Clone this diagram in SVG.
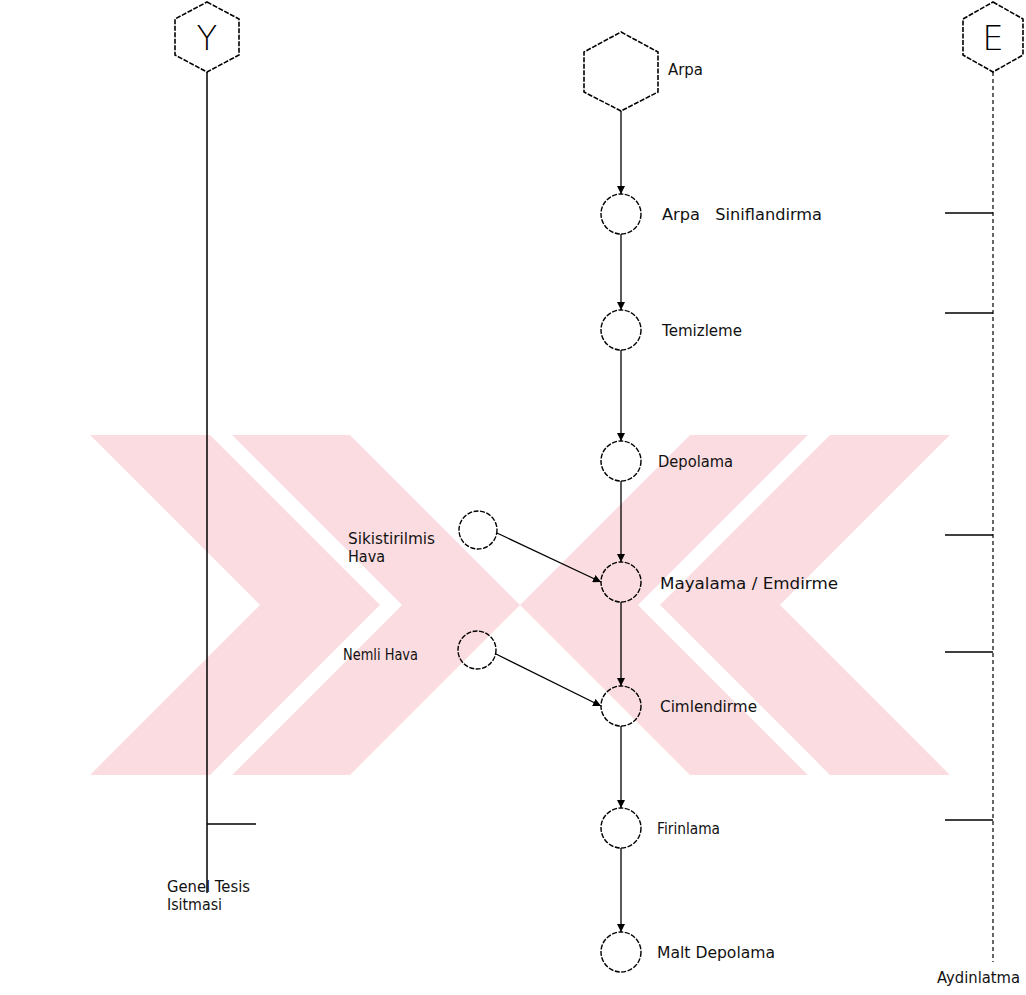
<svg xmlns="http://www.w3.org/2000/svg" width="1026" height="995" viewBox="0 0 1026 995">
  <style>
    .wm { fill: #fbdde1; }
    .hex { fill: none; stroke: #000; stroke-width: 1.6; stroke-dasharray: 5 1.5; }
    .node { fill: none; stroke: #000; stroke-width: 1.4; stroke-dasharray: 5 1.5; }
    .flow { fill: none; stroke: #000; stroke-width: 1.3; }
    .rail { fill: none; stroke: #000; stroke-width: 1.5; }
    .rail-dot { fill: none; stroke: #000; stroke-width: 1.2; stroke-dasharray: 4 3; }
    .tick { fill: none; stroke: #000; stroke-width: 1.4; }
    .lbl { font-family: "DejaVu Sans", "Liberation Sans", sans-serif; font-size: 16px; fill: #111; }
    .sym { font-family: "DejaVu Sans", "Liberation Sans", sans-serif; font-size: 34px; font-weight: 300; fill: #000; text-anchor: middle; }
  </style>
  <defs>
    <marker id="arr" markerWidth="8" markerHeight="8" refX="8" refY="4" orient="auto" markerUnits="userSpaceOnUse">
      <path d="M0,0 L8,4 L0,8 Z" fill="#000"/>
    </marker>
  </defs>

  <rect width="1026" height="995" fill="#fff"/>

  <!-- background emblem: two pairs of chevrons meeting in the middle -->
  <g id="emblem">
    <polygon class="wm" points="90,435 210,435 380,605 210,775 90,775 260,605"/>
    <polygon class="wm" points="232,435 350,435 520,605 350,775 232,775 402,605"/>
    <polygon class="wm" points="690,435 808,435 638,605 808,775 690,775 520,605"/>
    <polygon class="wm" points="830,435 950,435 780,605 950,775 830,775 660,605"/>
  </g>

  <!-- vertical rails -->
  <g id="rail-y">
    <polygon class="hex" points="207,2 239,19 239,55 207,72 175,55 175,19"/>
    <text class="sym" x="207" y="50">Y</text>
    <line class="rail" x1="207" y1="72" x2="207" y2="893"/>
    <line class="tick" x1="207" y1="824" x2="256" y2="824"/>
    <text class="lbl" x="167" y="892" textLength="83" lengthAdjust="spacingAndGlyphs">Genel Tesis</text>
    <text class="lbl" x="167" y="910" textLength="55" lengthAdjust="spacingAndGlyphs">Isitmasi</text>
  </g>

  <g id="rail-e">
    <polygon class="hex" points="993,2 1023,19 1023,55 993,72 963,55 963,19"/>
    <text class="sym" x="993" y="50">E</text>
    <line class="rail-dot" x1="993" y1="72" x2="993" y2="962"/>
    <line class="tick" x1="945" y1="213" x2="993" y2="213"/>
    <line class="tick" x1="945" y1="313" x2="993" y2="313"/>
    <line class="tick" x1="945" y1="535" x2="993" y2="535"/>
    <line class="tick" x1="945" y1="652" x2="993" y2="652"/>
    <line class="tick" x1="945" y1="820" x2="993" y2="820"/>
    <text class="lbl" x="937" y="983" textLength="83" lengthAdjust="spacingAndGlyphs">Aydinlatma</text>
  </g>

  <!-- process nodes -->
  <g id="arpa">
    <polygon class="hex" points="621,32 658,52 658,92 621,111 584,92 584,52"/>
    <text class="lbl" x="668" y="75" textLength="35" lengthAdjust="spacingAndGlyphs">Arpa</text>
  </g>
  <g id="siniflandirma">
    <circle class="node" cx="621" cy="214" r="20"/>
    <text class="lbl" x="662" y="220" textLength="160" lengthAdjust="spacingAndGlyphs">Arpa &#160; Siniflandirma</text>
  </g>
  <g id="temizleme">
    <circle class="node" cx="621" cy="330" r="20"/>
    <text class="lbl" x="662" y="336" textLength="80" lengthAdjust="spacingAndGlyphs">Temizleme</text>
  </g>
  <g id="depolama">
    <circle class="node" cx="621" cy="461" r="20"/>
    <text class="lbl" x="658" y="467" textLength="75" lengthAdjust="spacingAndGlyphs">Depolama</text>
  </g>
  <g id="mayalama">
    <circle class="node" cx="621" cy="582" r="20"/>
    <text class="lbl" x="660" y="589" textLength="178" lengthAdjust="spacingAndGlyphs">Mayalama / Emdirme</text>
  </g>
  <g id="cimlendirme">
    <circle class="node" cx="621" cy="706" r="20"/>
    <text class="lbl" x="660" y="712" textLength="97" lengthAdjust="spacingAndGlyphs">Cimlendirme</text>
  </g>
  <g id="firinlama">
    <circle class="node" cx="621" cy="828" r="20"/>
    <text class="lbl" x="657" y="834" textLength="63" lengthAdjust="spacingAndGlyphs">Firinlama</text>
  </g>
  <g id="malt-depolama">
    <circle class="node" cx="621" cy="952" r="20"/>
    <text class="lbl" x="657" y="958" textLength="118" lengthAdjust="spacingAndGlyphs">Malt Depolama</text>
  </g>
  <g id="sikistirilmis-hava">
    <circle class="node" cx="478" cy="530" r="19"/>
    <text class="lbl" x="348" y="544" textLength="87" lengthAdjust="spacingAndGlyphs">Sikistirilmis</text>
    <text class="lbl" x="348" y="562" textLength="37" lengthAdjust="spacingAndGlyphs">Hava</text>
  </g>
  <g id="nemli-hava">
    <circle class="node" cx="477" cy="650" r="19"/>
    <text class="lbl" x="343" y="660" textLength="75" lengthAdjust="spacingAndGlyphs">Nemli Hava</text>
  </g>

  <!-- connectors -->
  <g id="connectors">
    <line class="flow" x1="621" y1="111" x2="621" y2="194" marker-end="url(#arr)"/>
    <line class="flow" x1="621" y1="234" x2="621" y2="310" marker-end="url(#arr)"/>
    <line class="flow" x1="621" y1="350" x2="621" y2="441" marker-end="url(#arr)"/>
    <line class="flow" x1="621" y1="481" x2="621" y2="562" marker-end="url(#arr)"/>
    <line class="flow" x1="621" y1="602" x2="621" y2="686" marker-end="url(#arr)"/>
    <line class="flow" x1="621" y1="726" x2="621" y2="808" marker-end="url(#arr)"/>
    <line class="flow" x1="621" y1="848" x2="621" y2="932" marker-end="url(#arr)"/>
    <line class="flow" x1="497" y1="533" x2="601" y2="582" marker-end="url(#arr)"/>
    <line class="flow" x1="496" y1="654" x2="601" y2="706" marker-end="url(#arr)"/>
  </g>
</svg>
